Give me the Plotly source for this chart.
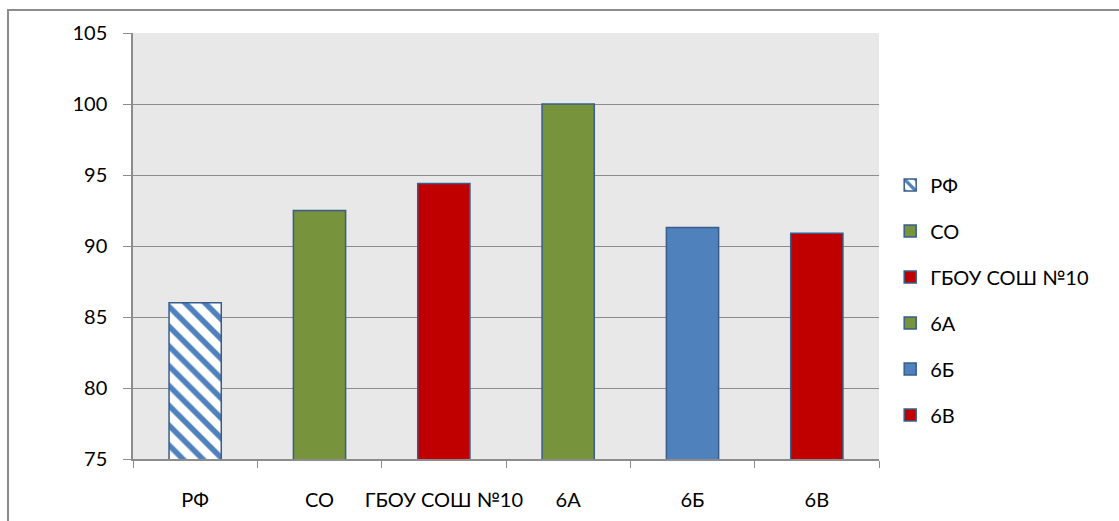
import plotly.graph_objects as go

categories = ["РФ", "СО", "ГБОУ СОШ №10", "6А", "6Б", "6В"]
values = [86.0, 92.5, 94.4, 100.0, 91.3, 90.9]
colors = ["#ffffff", "#77933c", "#c00000", "#77933c", "#4f81bd", "#c00000"]
y_ticks = [75, 80, 85, 90, 95, 100, 105]

FONT = "Lato"

fig = go.Figure()
for i, (cat, val, col) in enumerate(zip(categories, values, colors)):
    marker = dict(color=col, line=dict(color="#385d8a", width=1.5))
    if i == 0:
        marker["pattern"] = dict(shape="\\", fgcolor="#4f81bd", bgcolor="#ffffff",
                                 size=14, solidity=0.4, fillmode="overlay",
                                 fgopacity=1)
    fig.add_trace(go.Bar(
        x=[cat], y=[val], name=cat, marker=marker, width=0.42,
        legendgroup=cat, showlegend=True,
    ))

fig.update_layout(
    width=1119, height=521,
    margin=dict(l=133, r=240, t=33, b=62, autoexpand=False),
    paper_bgcolor="#ffffff",
    plot_bgcolor="#e8e8e8",
    barmode="overlay",
    font=dict(family=FONT, size=20, color="#000000"),
    legend=dict(x=1.015, xanchor="left", y=0.373, yanchor="middle",
                tracegroupgap=17, font=dict(size=20),
                bgcolor="rgba(0,0,0,0)"),
    xaxis=dict(
        type="category", categoryorder="array", categoryarray=categories,
        tickson="boundaries", ticks="outside", ticklen=7, tickcolor="#8c8c8c",
        showline=True, linecolor="#8c8c8c", linewidth=1.5,
        showgrid=False, ticklabelstandoff=22, tickangle=0, automargin=False,
        range=[-0.5, 5.5],
    ),
    yaxis=dict(
        range=[75, 105], tickvals=y_ticks, ticks="outside", ticklen=8,
        tickcolor="#8c8c8c", showline=True, linecolor="#8c8c8c", linewidth=1.5,
        gridcolor="#8c8c8c", gridwidth=1.2, zeroline=False,
        ticklabelstandoff=12, automargin=False,
    ),
    shapes=[dict(type="rect", xref="paper", yref="paper",
                 x0=(8 - 133) / 746, x1=1.5, y0=-0.5, y1=1 + (33 - 10) / 426,
                 line=dict(color="#8c8c8c", width=2), fillcolor="rgba(0,0,0,0)",
                 layer="below")],
)

fig.write_html("out.html")
